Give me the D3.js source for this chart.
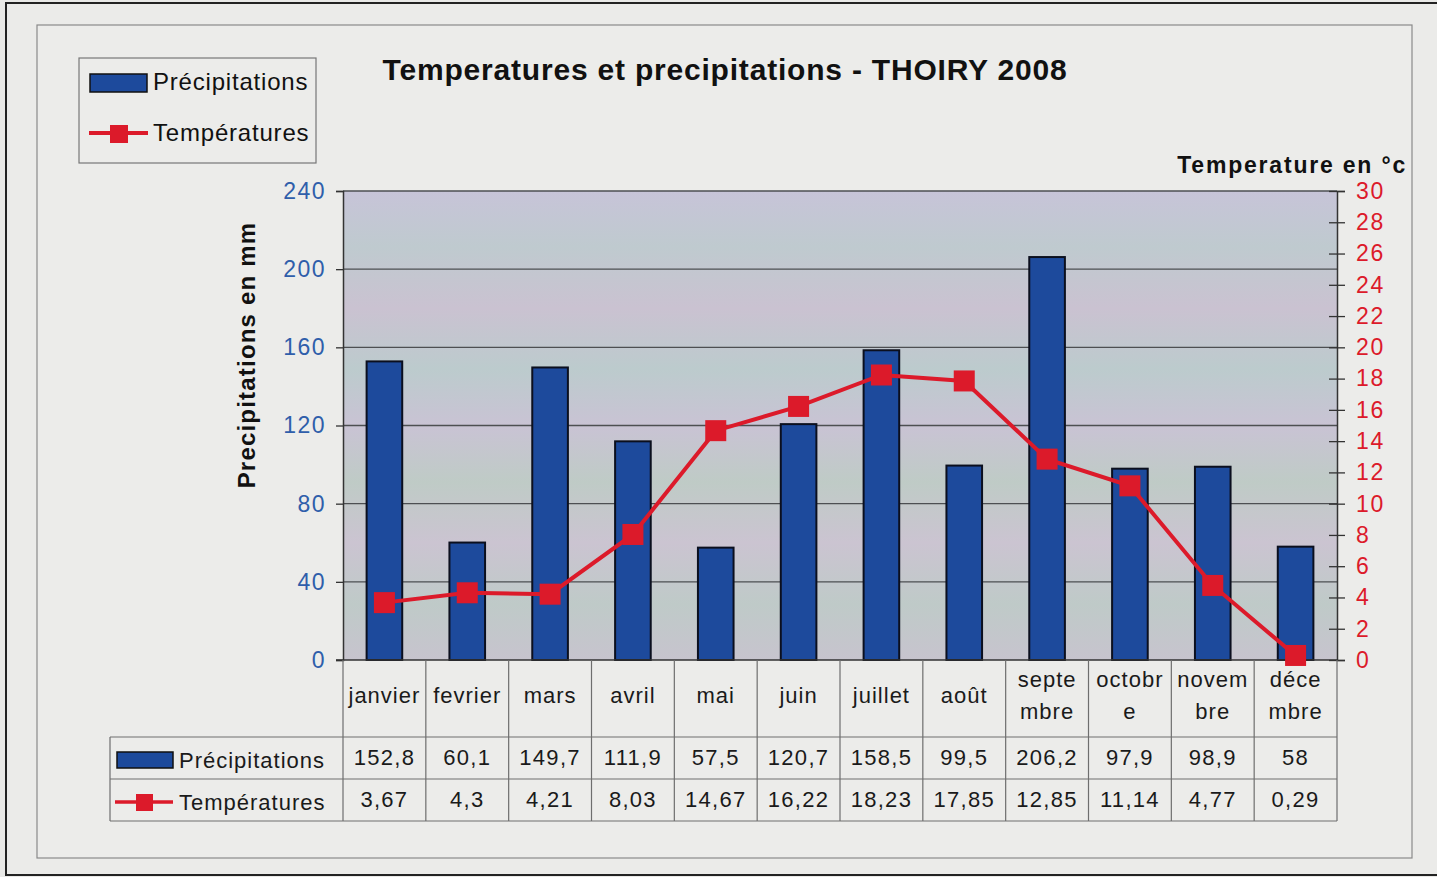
<!DOCTYPE html>
<html><head><meta charset="utf-8">
<script src="https://cdn.jsdelivr.net/npm/d3@7"></script>
<style>body{margin:0;background:#e9e9e7;}svg{display:block;font-family:"Liberation Sans",Arial,sans-serif;}</style>
</head><body>
<svg id="c" width="1437" height="877"></svg>
<script>
const months = ["janvier","fevrier","mars","avril","mai","juin","juillet","août","septembre","octobre","novembre","décembre"];
const monthLabels = [["janvier"],["fevrier"],["mars"],["avril"],["mai"],["juin"],["juillet"],["août"],["septe","mbre"],["octobr","e"],["novem","bre"],["déce","mbre"]];
const precip = [152.8,60.1,149.7,111.9,57.5,120.7,158.5,99.5,206.2,97.9,98.9,58];
const precipText = ["152,8","60,1","149,7","111,9","57,5","120,7","158,5","99,5","206,2","97,9","98,9","58"];
const temps = [3.67,4.3,4.21,8.03,14.67,16.22,18.23,17.85,12.85,11.14,4.77,0.29];
const tempText = ["3,67","4,3","4,21","8,03","14,67","16,22","18,23","17,85","12,85","11,14","4,77","0,29"];
const leftTicks = [0,40,80,120,160,200,240];
const rightTicks = [0,2,4,6,8,10,12,14,16,18,20,22,24,26,28,30];

const svg = d3.select("#c");
const X0=343, X1=1337, Y0=191, Y1=660;
const BLUE="#1d4a9c", RED="#dc1a2a", AXBLUE="#2f5eaa";

// frames
svg.append("rect").attr("x",6).attr("y",3).attr("width",1440).attr("height",872).attr("fill","#ebebe9").attr("stroke","#222").attr("stroke-width",2);
svg.append("rect").attr("x",37).attr("y",25).attr("width",1375).attr("height",833).attr("fill","#ececea").attr("stroke","#8a8a8a").attr("stroke-width",1.2);

// plot background gradient
const defs = svg.append("defs");
const g = defs.append("linearGradient").attr("id","bg").attr("x1",0).attr("y1",0).attr("x2",0).attr("y2",1);
[["0","#c7c4d8"],["0.12","#bfcacf"],["0.25","#cac2d1"],["0.38","#bccbcd"],["0.5","#c9c3d4"],["0.62","#bfcbc6"],["0.75","#cbc4d1"],["0.88","#bfcac8"],["1","#c7c4ce"]]
 .forEach(s=>g.append("stop").attr("offset",s[0]).attr("stop-color",s[1]));
svg.append("rect").attr("x",X0).attr("y",Y0).attr("width",X1-X0).attr("height",Y1-Y0).attr("fill","url(#bg)");

const x = d3.scaleBand().domain(months).range([X0,X1]).paddingInner(0.57).paddingOuter(0.285);
const xc = d3.scaleBand().domain(months).range([X0,X1]);
const yL = d3.scaleLinear().domain([0,240]).range([Y1,Y0]);
const yR = d3.scaleLinear().domain([0,30]).range([Y1,Y0]);

// gridlines
svg.append("g").selectAll("line").data(leftTicks.slice(1)).join("line")
  .attr("x1",X0).attr("x2",X1).attr("y1",d=>yL(d)).attr("y2",d=>yL(d))
  .attr("stroke","#4d4f52").attr("stroke-width",1.3);

// left axis
const la = svg.append("g").attr("transform",`translate(${X0},0)`)
  .call(d3.axisLeft(yL).tickValues(leftTicks).tickSize(7).tickPadding(10));
la.select(".domain").attr("stroke","#333").attr("stroke-width",1.5);
la.selectAll(".tick line").attr("stroke","#333").attr("stroke-width",1.3);
la.selectAll("text").attr("fill",AXBLUE).attr("font-size",23).attr("letter-spacing",1.5).attr("font-family","Liberation Sans, Arial");

// right axis
const ra = svg.append("g").attr("transform",`translate(${X1},0)`)
  .call(d3.axisRight(yR).tickValues(rightTicks).tickSize(8).tickPadding(11));
ra.select(".domain").attr("stroke","#333").attr("stroke-width",1.5);
ra.selectAll(".tick line").attr("x1",-8).attr("stroke","#333").attr("stroke-width",1.3);
ra.selectAll("text").attr("fill",RED).attr("font-size",23).attr("letter-spacing",1.8).attr("font-family","Liberation Sans, Arial");

// bars
svg.append("g").selectAll("rect").data(months).join("rect")
  .attr("x",d=>x(d)).attr("width",x.bandwidth())
  .attr("y",(d,i)=>yL(precip[i])).attr("height",(d,i)=>Y1-yL(precip[i]))
  .attr("fill",BLUE).attr("stroke","#0b0f1e").attr("stroke-width",2);

// bottom axis line
svg.append("line").attr("x1",X0-7).attr("x2",X1).attr("y1",Y1).attr("y2",Y1).attr("stroke","#333").attr("stroke-width",1.5);

// temperature line
const line = d3.line().x((d,i)=>xc(months[i])+xc.bandwidth()/2).y(d=>yR(d));
svg.append("path").datum(temps).attr("d",line).attr("fill","none").attr("stroke",RED).attr("stroke-width",4);
const ms=21;
svg.append("g").selectAll("rect").data(temps).join("rect")
  .attr("x",(d,i)=>xc(months[i])+xc.bandwidth()/2-ms/2).attr("y",d=>yR(d)-ms/2)
  .attr("width",ms).attr("height",ms).attr("fill",RED);

// titles
svg.append("text").attr("x",725).attr("y",80).attr("text-anchor","middle").attr("font-weight","bold").attr("font-size",30).attr("letter-spacing",0.8).attr("fill","#111")
  .text("Temperatures et precipitations - THOIRY 2008");
svg.append("text").attr("transform","translate(255,355) rotate(-90)").attr("text-anchor","middle").attr("font-weight","bold").attr("font-size",24).attr("letter-spacing",1.2).attr("fill","#111")
  .text("Precipitations en mm");
svg.append("text").attr("x",1407).attr("y",173).attr("text-anchor","end").attr("font-weight","bold").attr("font-size",23).attr("fill","#111").attr("letter-spacing",1.8)
  .text("Temperature en °c");

// legend
svg.append("rect").attr("x",79).attr("y",58).attr("width",237).attr("height",105).attr("fill","#ececea").attr("stroke","#777").attr("stroke-width",1.2);
svg.append("rect").attr("x",90).attr("y",74).attr("width",57).attr("height",18).attr("fill",BLUE).attr("stroke","#111").attr("stroke-width",1.5);
svg.append("text").attr("x",153).attr("y",90).attr("font-size",24).attr("letter-spacing",0.8).attr("fill","#111").text("Précipitations");
svg.append("line").attr("x1",89).attr("x2",148).attr("y1",133).attr("y2",133).attr("stroke",RED).attr("stroke-width",4);
svg.append("rect").attr("x",110).attr("y",125).attr("width",18).attr("height",18).attr("fill",RED);
svg.append("text").attr("x",153).attr("y",141).attr("font-size",24).attr("letter-spacing",0.8).attr("fill","#111").text("Températures");

// data table
const TL=110, R1=737, R2=779, R3=821;
const tg = svg.append("g").attr("stroke","#6e6e6e").attr("stroke-width",1.2);
[R1,R2,R3].forEach(yy=>tg.append("line").attr("x1",TL).attr("x2",X1).attr("y1",yy).attr("y2",yy));
tg.append("line").attr("x1",TL).attr("x2",TL).attr("y1",R1).attr("y2",R3);
const bounds = months.map(m=>xc(m)).concat([X1]);
bounds.forEach(b=>tg.append("line").attr("x1",b).attr("x2",b).attr("y1",Y1).attr("y2",R3));

const cat = svg.append("g");
monthLabels.forEach((lab,i)=>{
  const cx = xc(months[i])+xc.bandwidth()/2;
  const ys = lab.length===1 ? [703] : [687,719];
  lab.forEach((s,j)=>cat.append("text").attr("x",cx).attr("y",ys[j]).attr("text-anchor","middle").attr("font-size",22).attr("fill","#1a1a1a").attr("letter-spacing",1).text(s));
});
precipText.forEach((t,i)=>svg.append("text").attr("x",xc(months[i])+xc.bandwidth()/2).attr("y",765).attr("text-anchor","middle").attr("font-size",22).attr("letter-spacing",1.3).attr("fill","#1a1a1a").text(t));
tempText.forEach((t,i)=>svg.append("text").attr("x",xc(months[i])+xc.bandwidth()/2).attr("y",807).attr("text-anchor","middle").attr("font-size",22).attr("letter-spacing",1.3).attr("fill","#1a1a1a").text(t));

svg.append("rect").attr("x",117).attr("y",752).attr("width",56).attr("height",16).attr("fill",BLUE).attr("stroke","#111").attr("stroke-width",1.5);
svg.append("text").attr("x",179).attr("y",768).attr("font-size",22).attr("letter-spacing",1).attr("fill","#1a1a1a").text("Précipitations");
svg.append("line").attr("x1",115).attr("x2",173).attr("y1",802).attr("y2",802).attr("stroke",RED).attr("stroke-width",3.5);
svg.append("rect").attr("x",136).attr("y",794).attr("width",17).attr("height",17).attr("fill",RED);
svg.append("text").attr("x",179).attr("y",810).attr("font-size",22).attr("letter-spacing",1).attr("fill","#1a1a1a").text("Températures");
</script>
</body></html>
